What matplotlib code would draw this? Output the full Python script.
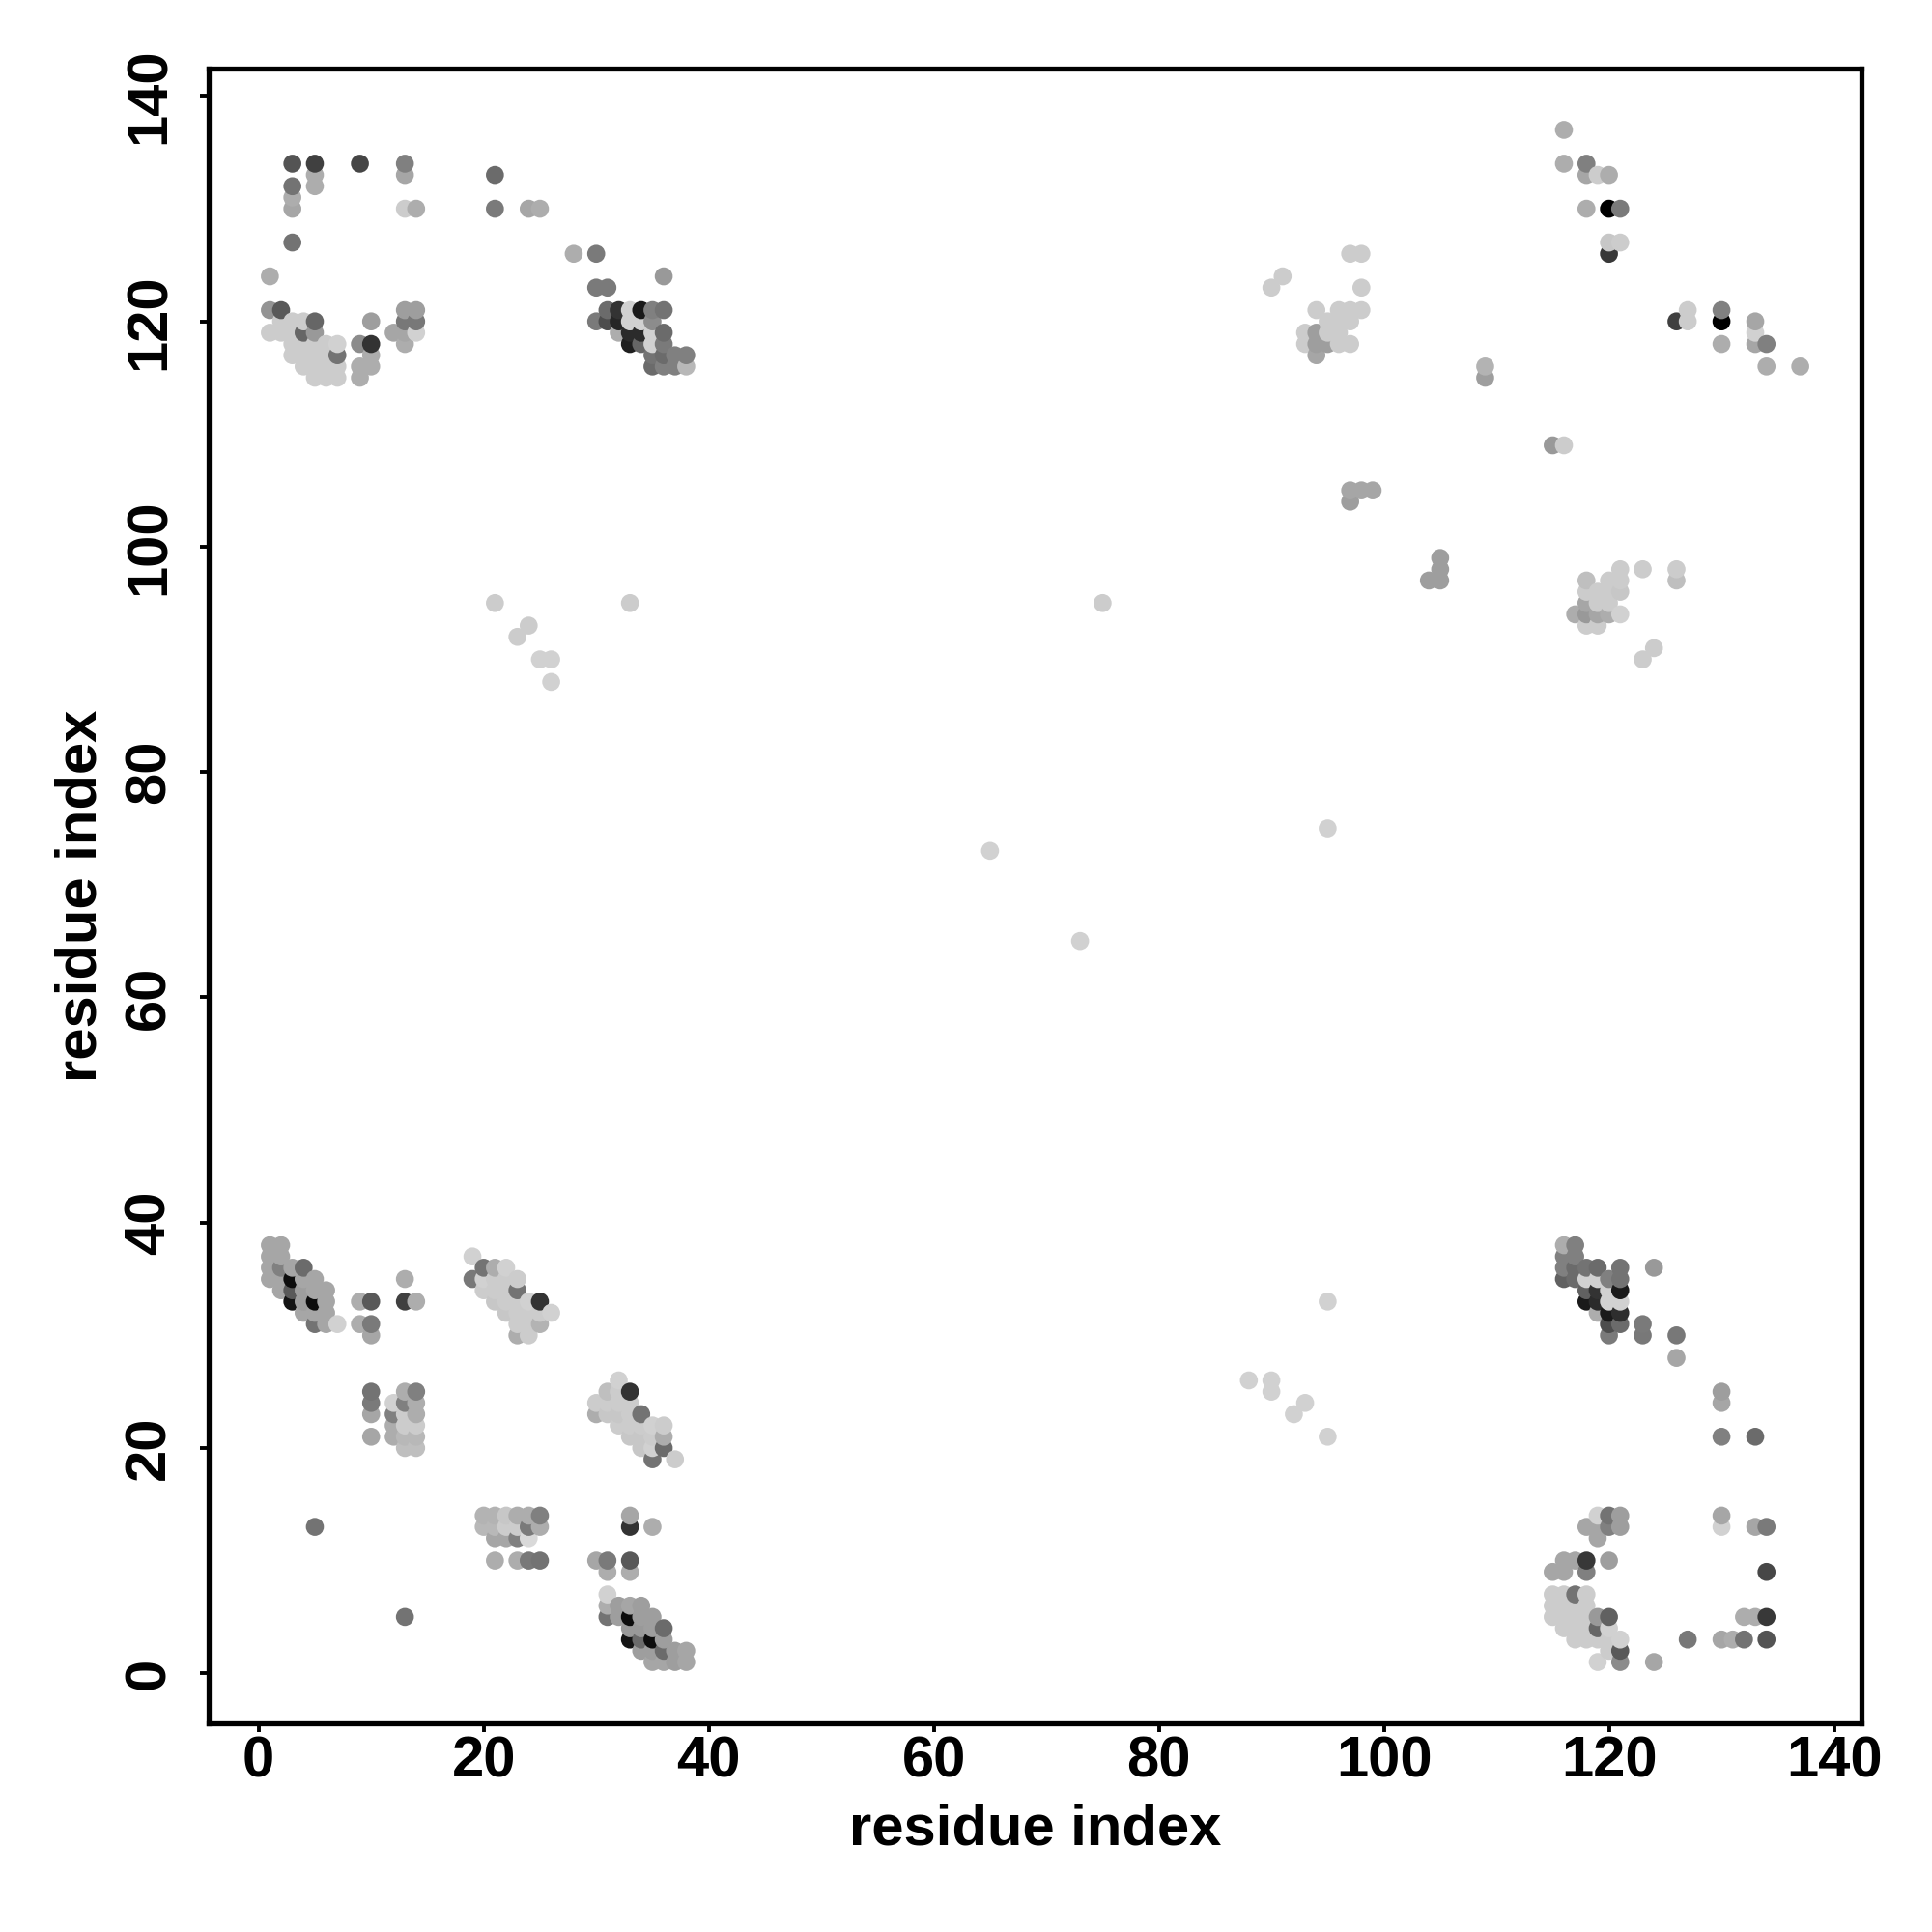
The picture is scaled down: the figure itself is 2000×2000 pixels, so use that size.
#!/usr/bin/env python3
import numpy as np
import matplotlib
matplotlib.use("Agg")
import matplotlib.pyplot as plt

plt.rcParams["font.family"] = ["Liberation Sans", "DejaVu Sans"]

# contact map points, one entry per row of the map (rows may repeat per cluster)
# grey level: 0 black, 1 white
L = .80  # the pale grey used all over the dense clusters

row_y = [
    # 1-25 / 115-134
    134, 133, 132, 131, 130, 127, 124, 121, 120, 119, 118, 117, 116, 115,
    # 28-38 / 116-126
    126, 124, 123, 121, 120, 119, 118, 117, 116,
    # 1-14 / 20-38
    38, 37, 36, 35, 34, 33, 32, 31, 30, 25, 24, 23, 22, 21, 20,
    # 19-26 / 30-37
    37, 36, 35, 34, 33, 32, 31, 30,
    # 30-37 / 19-26
    26, 25, 24, 23, 22, 21, 20, 19,
    # 20-38 / 1-14
    14, 13, 12, 10, 9, 7, 6, 5, 4, 3, 2, 1,
    # 116-126 / 28-38
    38, 37, 36, 35, 34, 33, 32, 31, 30, 28,
    # 115-134 / 1-25
    25, 24, 21, 14, 13, 12, 10, 9, 7, 6, 5, 4, 3, 2, 1,
    # 90-98 / 117-126
    126, 124, 123, 121, 120, 119, 118, 117,
    # 117-126 / 90-98
    98, 97, 96, 95, 94, 93, 91, 90,
    # 116-137 / 116-137
    137, 134, 133, 130, 127, 126, 121, 120, 119, 118, 116,
    # scattered
    116, 115, 109, 105, 104, 99, 98, 97,
    95, 93, 92, 90, 88, 75, 73, 65, 33, 26, 25, 24, 23, 21, 13, 5,
]

row_x = [
    [3, 5, 9, 13], [5, 13, 21], [3, 5], [3], [3, 13, 14, 21, 24, 25], [3], [1],
    [1, 2, 13, 14], [2, 3, 4, 5, 10, 13, 14], [1, 2, 3, 4, 5, 12, 13, 14],
    [3, 4, 5, 6, 7, 9, 10, 13], [3, 4, 5, 6, 7, 10], [4, 5, 6, 7, 9, 10], [5, 6, 7, 9],

    [28, 30], [36], [30, 31], [31, 32, 33, 34, 35, 36], [30, 31, 32, 33, 34, 35],
    [32, 33, 34, 35, 36], [33, 34, 35, 36], [35, 36, 37, 38], [35, 36, 37, 38],

    [1, 2], [1, 2], [1, 2, 3, 4], [1, 2, 3, 4, 5, 13], [2, 3, 4, 5, 6],
    [3, 4, 5, 6, 9, 10, 13, 14], [4, 5, 6], [5, 6, 7, 9, 10], [10],
    [10, 13, 14], [10, 12, 13, 14], [10, 12, 13, 14], [12, 13, 14], [10, 12, 13, 14], [13, 14],

    [19], [20, 21, 22], [19, 20, 21, 22, 23], [20, 21, 22, 23], [21, 22, 23, 24, 25],
    [22, 23, 24, 25, 26], [23, 24, 25], [23, 24],

    [32], [31, 32, 33], [30, 31, 32, 33], [30, 31, 32, 33, 34], [32, 33, 34, 35, 36],
    [33, 34, 35, 36], [34, 35, 36], [35, 37],

    [20, 21, 22, 23, 24, 25, 33], [20, 21, 22, 23, 24, 25, 33, 35], [21, 22, 23, 24],
    [21, 23, 24, 25, 30, 31, 33], [31, 33], [31], [31, 32, 33, 34], [31, 32, 33, 34, 35],
    [33, 34, 35, 36], [33, 34, 35, 36], [34, 35, 36, 37, 38], [35, 36, 37, 38],

    [116, 117], [116, 117], [116, 117, 118, 119, 121, 124], [116, 117, 118, 119, 120, 121],
    [118, 119, 120, 121], [118, 119, 120, 121], [119, 120, 121], [120, 121, 123],
    [120, 123, 126], [126],

    [130], [130], [130, 133], [119, 120, 121, 130], [118, 119, 120, 121, 130, 133, 134], [119],
    [116, 117, 118, 120], [115, 116, 118, 134], [115, 116, 117, 118], [115, 116, 117, 118],
    [115, 116, 117, 118, 119, 120, 132, 133, 134], [116, 117, 118, 119, 120],
    [117, 118, 119, 120, 121, 127, 130, 131, 132, 134], [120, 121], [119, 121, 124],

    [97, 98], [91], [90, 98], [94, 96, 97, 98], [95, 96, 97], [93, 94, 95, 96],
    [93, 94, 95, 96, 97], [94],

    [121, 123, 126], [118, 120, 121, 126], [118, 119, 120, 121], [118, 119, 120],
    [117, 118, 119, 120, 121], [118, 119], [124], [123],

    [116], [116, 118], [118, 119, 120], [118, 120, 121], [120, 121], [120],
    [127, 130], [126, 127, 130, 133], [133], [130, 133, 134], [134, 137],

    [109], [109], [115, 116], [97, 98, 99], [97], [105], [105], [104, 105],
    [21, 33, 75], [24], [23], [25, 26], [26], [95], [65], [73], [95], [88, 90], [90], [93], [92], [95], [5], [13],
]

row_g = [
    [.33, .25, .27, .50], [.68, .65, .42], [.45, .68], [.68], [.65, L, .68, .48, .65, .68], [.45], [.68],
    [.58, .35, .62, .62], [L, L, L, .40, .62, .47, .47], [L, L, L, .40, .60, .65, .65, .82],
    [L, L, L, L, .82, .55, .20, .68], [L, L, L, L, .45, .68], [L, L, L, L, .68, .68], [L, L, L, .68],

    [.68, .48], [.60], [.48, .48], [.42, .20, .82, .10, .50, .45], [.48, .30, .15, .82, .82, .55],
    [.68, .17, .17, .82, .42], [.12, .40, .82, .48], [.45, .42, .50, .50], [.42, .50, .50, .72],

    [.65, .65], [.65, .65], [.65, .50, .65, .42], [.65, .65, .05, .65, .65, .68], [.65, .35, .62, .65, .65],
    [.08, .62, .05, .65, .68, .35, .25, .68], [.65, .65, .65], [.45, .65, .82, .68, .48], [.65],
    [.45, .68, .50], [.48, .82, .50, .68], [.65, .50, L, .68], [.68, L, L], [.65, .68, .72, .72], [.75, .75],

    [.82], [.45, .68, .82], [.47, .82, L, L, L], [L, L, L, .45], [.78, L, L, .82, .20],
    [.78, L, L, L, .82], [L, L, .70], [.68, L],

    [.82], [.75, L, .20], [L, L, L, L], [.68, .78, .78, L, .45], [L, L, L, .82, L],
    [.78, .78, L, .68], [.78, .82, .42], [.45, L],

    [.70, .70, .78, .68, .68, .50, .65], [.72, .72, L, L, .48, .68, .20, .68], [.65, .65, .50, .85],
    [.68, .68, .47, .45, .65, .48, .35], [.68, .68], [.82], [.68, .62, .65, .62], [.45, .62, .05, .62, .62],
    [.60, .60, .62, .42], [.08, .42, .05, .62], [.62, .62, .42, .62, .65], [.65, .65, .62, .65],

    [.68, .50], [.50, .50], [.50, .42, .45, .42, .45, .60], [.38, .42, .82, .82, .50, .45],
    [.38, .20, .82, .10], [.10, .17, .82, .82], [.68, .10, .18], [.30, .42, .48],
    [.48, .47, .47], [.65],

    [.62], [.65], [.50, .42], [.82, .45, .62, .65], [.65, .65, .50, .62, .82, .65, .48], [.65],
    [.65, .65, .22, .62], [.65, .65, .50, .28], [L, L, .45, L], [L, L, L, L],
    [L, L, L, L, .60, .38, .68, .68, .22], [L, L, L, .40, .82],
    [L, L, L, L, .82, .47, .65, .68, .45, .33], [L, .35], [.82, .55, .65],

    [L, L], [L], [L, L], [.80, .80, .80, .80], [L, L, L], [L, .62, L, L],
    [L, .62, .62, L, L], [.65],

    [L, L, L], [.75, L, L, .75], [L, L, L, .78], [.65, L, L],
    [.68, .60, .65, .68, .82], [L, L], [L], [L],

    [.68], [.68, .50], [.65, L, .68], [.68, .00, .48], [.78, L], [.22],
    [L, .50], [.25, L, .00, .65], [.82], [.68, .65, .50], [.68, .68],

    [.70], [.62], [.60, L], [.65, .65, .65], [.62], [.62], [.62], [.62, .62],
    [L, L, L], [L], [L], [.82, .82], [.82], [.82], [.82], [.82], [.82], [.82, .82], [.82], [.82], [.82], [.82], [.45], [.45],
]

x_ticks = [0, 20, 40, 60, 80, 100, 120, 140]
y_ticks = [0, 20, 40, 60, 80, 100, 120, 140]
axis_label = "residue index"

for yy, xs, gs in zip(row_y, row_x, row_g, strict=True):
    assert len(xs) == len(gs), (yy, xs, gs)

x = np.concatenate(row_x)
y = np.repeat(row_y, [len(r) for r in row_x])
g = np.concatenate(row_g)

# map is drawn column by column, bottom to top
order = np.lexsort((y, x))
colors = [str(v) for v in g[order]]

fig = plt.figure(figsize=(10, 10), dpi=200)
ax = fig.add_axes([216 / 2000, 216 / 2000, 1711 / 2000, 1713 / 2000])
ax.scatter(x[order], y[order], s=45, c=colors, linewidths=0, zorder=2)

ax.set_xlim(-4.44, 142.44)
ax.set_ylim(-4.44, 142.44)
ax.set_xticks(x_ticks)
ax.set_yticks(y_ticks)
ax.tick_params(length=3.1, width=1.4, labelsize=21.5)
ax.tick_params(axis="x", pad=1.5)
ax.tick_params(axis="y", pad=9)
for lab in ax.get_xticklabels():
    lab.set_fontweight("bold")
for lab in ax.get_yticklabels():
    lab.set_fontweight("bold")
    lab.set_rotation(90)
    lab.set_va("center")
for s in ax.spines.values():
    s.set_linewidth(1.9)

ax.set_xlabel(axis_label, fontsize=21.5, fontweight="bold")
ax.set_ylabel(axis_label, fontsize=21.5, fontweight="bold")
ax.xaxis.set_label_coords(0.5, -0.0479)
ax.yaxis.set_label_coords(-0.061, 0.5)

fig.savefig("out.png", dpi=200)
